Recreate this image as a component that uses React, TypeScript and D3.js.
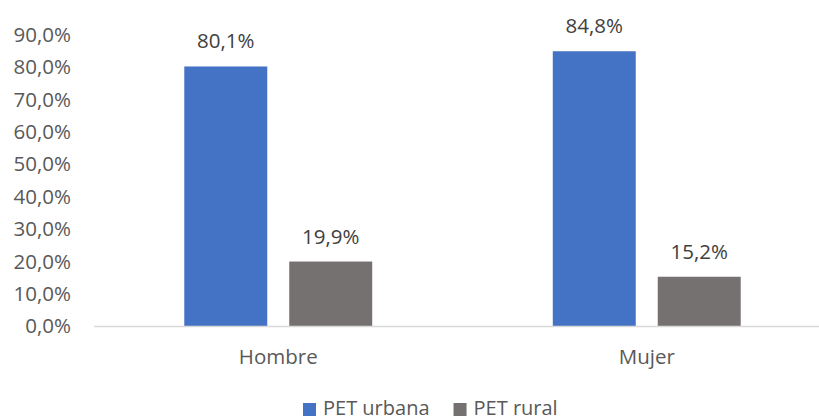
import React, { useEffect, useRef } from 'react';
import * as d3 from 'd3';

// categorías y series
const categories = ['Hombre', 'Mujer'];
const seriesNames = ['PET urbana', 'PET rural'];
const urbana = [80.1, 84.8];
const rural = [19.9, 15.2];
const yTicks = [0, 10, 20, 30, 40, 50, 60, 70, 80, 90];

const colors = ['#4472C4', '#767171'];
const fontFamily = '"Open Sans", "Noto Sans", sans-serif';

const fmt = (v: number) => v.toFixed(1).replace('.', ',') + '%';

const App = () => {
    const svgRef = useRef(null);

    useEffect(() => {
        const svg = d3.select(svgRef.current);
        svg.selectAll('*').remove();

        const width = 819;
        const height = 420;
        const left = 94;
        const right = 831; // el gráfico original está recortado a la derecha
        const top = 34.4;
        const bottom = 326;

        const x0 = d3.scaleBand().domain(categories).range([left, right]).paddingInner(0.49).paddingOuter(0.245);
        const x1 = d3.scaleBand().domain(seriesNames).range([0, x0.bandwidth()]).paddingInner(0.2095);
        const y = d3.scaleLinear().domain([0, 90]).range([bottom, top]);

        // eje Y (solo etiquetas)
        svg.append('g')
            .selectAll('text')
            .data(yTicks)
            .join('text')
            .attr('x', 71)
            .attr('y', d => y(d))
            .attr('dy', '0.36em')
            .attr('text-anchor', 'end')
            .attr('font-family', fontFamily)
            .attr('font-size', 20.5)
            .attr('fill', '#595959')
            .text(d => fmt(d));

        // barras
        const values = [urbana, rural];
        const groups = svg.append('g')
            .selectAll('g')
            .data(categories)
            .join('g')
            .attr('transform', c => `translate(${x0(c)},0)`);

        groups.selectAll('rect')
            .data((c, i) => seriesNames.map((s, k) => ({ s, k, v: values[k][i] })))
            .join('rect')
            .attr('x', d => x1(d.s))
            .attr('y', d => y(d.v))
            .attr('width', x1.bandwidth())
            .attr('height', d => bottom - y(d.v))
            .attr('fill', d => colors[d.k]);

        groups.selectAll('text')
            .data((c, i) => seriesNames.map((s, k) => ({ s, k, v: values[k][i] })))
            .join('text')
            .attr('x', d => x1(d.s) + x1.bandwidth() / 2)
            .attr('y', d => y(d.v) - 18)
            .attr('text-anchor', 'middle')
            .attr('font-family', fontFamily)
            .attr('font-size', 20.5)
            .attr('fill', '#404040')
            .text(d => fmt(d.v));

        // línea base
        svg.append('line')
            .attr('x1', left)
            .attr('x2', right)
            .attr('y1', bottom + 0.5)
            .attr('y2', bottom + 0.5)
            .attr('stroke', '#d9d9d9')
            .attr('stroke-width', 1.5);

        // etiquetas de categoría
        svg.append('g')
            .selectAll('text')
            .data(categories)
            .join('text')
            .attr('x', c => x0(c) + x0.bandwidth() / 2)
            .attr('y', 364)
            .attr('text-anchor', 'middle')
            .attr('font-family', fontFamily)
            .attr('font-size', 20.5)
            .attr('fill', '#595959')
            .text(c => c);

        // leyenda
        const legend = svg.append('g');
        let lx = 303;
        seriesNames.forEach((s, k) => {
            legend.append('rect')
                .attr('x', lx)
                .attr('y', 403)
                .attr('width', 13)
                .attr('height', 13)
                .attr('fill', colors[k]);
            const t = legend.append('text')
                .attr('x', lx + 20)
                .attr('y', 415)
                .attr('font-family', fontFamily)
                .attr('font-size', 20)
                .attr('fill', '#595959')
                .text(s);
            const w = (t.node() as SVGTextElement).getComputedTextLength();
            lx = lx + 20 + w + 24;
        });

        svg.attr('width', width).attr('height', height);
    }, []);

    return (
        <svg ref={svgRef} width={819} height={420}
             style={{ position: 'absolute', left: 0, top: 0, background: '#fff' }} />
    );
};

export default App;
